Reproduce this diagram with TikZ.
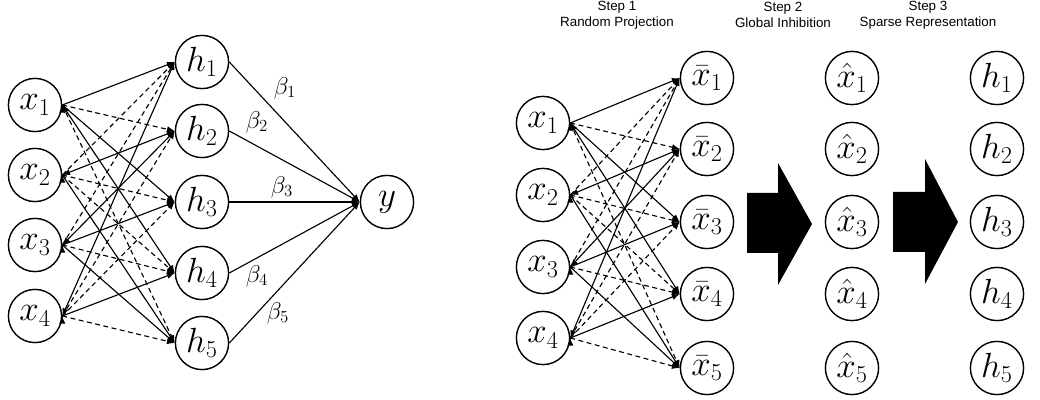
\documentclass[tikz,border=0pt]{standalone}
\usepackage{fontspec}
\setsansfont{Liberation Sans}
\usetikzlibrary{arrows.meta}

\begin{document}
\begin{tikzpicture}[x=0.025cm, y=-0.025cm, >={Latex[length=5.5pt,width=4.5pt]}, line width=0.8pt]
	\tikzstyle{every node}=[circle, draw, line width=1pt, minimum size=1.33cm, inner sep=0pt, font=\fontsize{23}{27}\selectfont]
	\tikzstyle{lbl}=[draw=none, rectangle, minimum size=0pt, inner sep=1pt, font=\fontsize{17}{20}\selectfont]
	\tikzstyle{steps}=[lbl, align=center, font=\sffamily\fontsize{9.5}{11.5}\selectfont]
	\tikzstyle{dashline}=[dash pattern=on 3.5pt off 2.5pt]
	\useasboundingbox (0,0) rectangle (1040,400);

		% extreme learning machine
		\node (x1) at (35, 105) {$x_1$};
		\node (x2) at (35, 175) {$x_2$};
		\node (x3) at (35, 245) {$x_3$};
		\node (x4) at (35, 316) {$x_4$};
		\node (h1) at (202, 62) {$h_1$};
		\node (h2) at (202, 131) {$h_2$};
		\node (h3) at (202, 202) {$h_3$};
		\node (h4) at (202, 273) {$h_4$};
		\node (h5) at (202, 343) {$h_5$};
		\node (y)  at (387, 202) {$y$};
		\node[lbl] (b1) at (285, 88) {$\beta_1$};
		\node[lbl] (b2) at (257, 122) {$\beta_2$};
		\node[lbl] (b3) at (282, 187) {$\beta_3$};
		\node[lbl] (b4) at (257, 276) {$\beta_4$};
		\node[lbl] (b5) at (278, 313) {$\beta_5$};

		\draw[->] (x1.east) edge (h1.west) edge[dashline] (h2.west) edge (h3.west) edge[<->] (h4.west) edge[dashline] (h5.west);
		\draw[->] (x2.east) edge[dashline] (h1.west) edge[<->] (h2.west) edge[dashline] (h3.west) edge[dashline] (h4.west) edge (h5.west);
		\draw[->] (x3.east) edge[dashline] (h1.west) edge[<->] (h2.west) edge (h3.west) edge[dashline] (h4.west) edge (h5.west);
		\draw[->] (x4.east) edge[<->] (h1.west) edge[dashline] (h2.west) edge[dashline] (h3.west) edge (h4.west) edge[dashline] (h5.west);
		\draw[->] (h1.east) -- (y.west);
		\draw[->] (h2.east) -- (y.west);
		\draw[->] (h3.east) -- (y.west);
		\draw[->] (h4.east) -- (y.west);
		\draw[->] (h5.east) -- (y.west);

		% three steps
		\node[steps] (step1) at (617, 15) {Step 1\\Random Projection};
		\node[steps] (step2) at (783, 15) {Step 2\\Global Inhibition};
		\node[steps] (step3) at (928, 15) {Step 3\\Sparse Representation};

		\node (in1) at (543, 123) {$x_1$};
		\node (in2) at (543, 195) {$x_2$};
		\node (in3) at (543, 267) {$x_3$};
		\node (in4) at (543, 338) {$x_4$};
		\node (bar1) at (707, 78) {$\bar{x}_1$};
		\node (bar2) at (707, 149) {$\bar{x}_2$};
		\node (bar3) at (707, 222) {$\bar{x}_3$};
		\node (bar4) at (707, 294) {$\bar{x}_4$};
		\node (bar5) at (707, 368) {$\bar{x}_5$};
		\node (hat1) at (852, 78) {$\hat{x}_1$};
		\node (hat2) at (852, 149) {$\hat{x}_2$};
		\node (hat3) at (852, 222) {$\hat{x}_3$};
		\node (hat4) at (852, 294) {$\hat{x}_4$};
		\node (hat5) at (852, 368) {$\hat{x}_5$};
		\node (sp1) at (997, 78) {$h_1$};
		\node (sp2) at (997, 149) {$h_2$};
		\node (sp3) at (997, 222) {$h_3$};
		\node (sp4) at (997, 294) {$h_4$};
		\node (sp5) at (997, 368) {$h_5$};

		\draw[->] (in1.east) edge (bar1.west) edge[dashline] (bar2.west) edge (bar3.west) edge[<->] (bar4.west) edge[dashline] (bar5.west);
		\draw[->] (in2.east) edge[dashline] (bar1.west) edge[<->] (bar2.west) edge[dashline] (bar3.west) edge[dashline] (bar4.west) edge (bar5.west);
		\draw[->] (in3.east) edge[dashline] (bar1.west) edge[<->] (bar2.west) edge (bar3.west) edge[dashline] (bar4.west) edge (bar5.west);
		\draw[->] (in4.east) edge[<->] (bar1.west) edge[dashline] (bar2.west) edge[dashline] (bar3.west) edge (bar4.west) edge[dashline] (bar5.west);

		\fill (747, 193) -- (778, 193) -- (778, 163) -- (812, 224) -- (778, 285) -- (778, 253) -- (747, 253) -- cycle;
		\fill (893, 192) -- (925, 192) -- (925, 159) -- (958, 222) -- (925, 284) -- (925, 252) -- (893, 252) -- cycle;
	\end{tikzpicture}
\end{document}
